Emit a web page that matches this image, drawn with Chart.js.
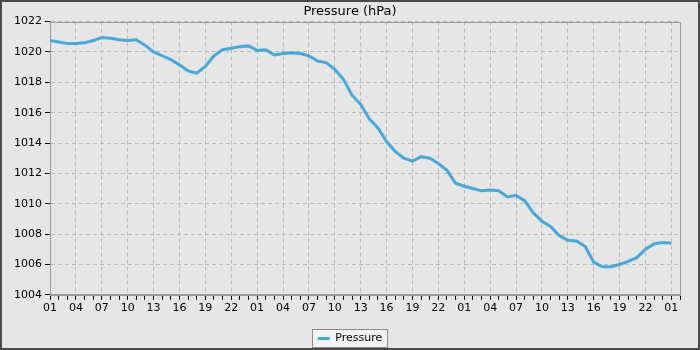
<!DOCTYPE html>
<html>
<head>
<meta charset="utf-8">
<script src="https://cdn.jsdelivr.net/npm/chart.js@4.4.1/dist/chart.umd.min.js"></script>
<style>
html, body { margin: 0; padding: 0; background: #fff; }
#wrap { width: 700px; height: 350px; box-sizing: border-box; border: 2px solid #4a4a4a; background: #e6e6e6; }
canvas { display: block; }
</style>
</head>
<body>
<div id="wrap"><canvas id="myChart" width="696" height="346"></canvas></div>
<script>
// hours since 01:00 on the first day
const hours = [0, 1, 2, 3, 4, 5, 6, 7, 8, 9, 10, 11, 12, 13, 14, 15, 16, 17, 18, 19, 20, 21, 22, 23,
  24, 25, 26, 27, 28, 29, 30, 31, 32, 33, 34, 35, 36, 37, 38, 39, 40, 41, 42, 43, 44, 45, 46, 47,
  48, 49, 50, 51, 52, 53, 54, 55, 56, 57, 58, 59, 60, 61, 62, 63, 64, 65, 66, 67, 68, 69, 70, 71, 72];
const pressure = [1020.75, 1020.65, 1020.55, 1020.55, 1020.6, 1020.75, 1020.95, 1020.9, 1020.8, 1020.75, 1020.8, 1020.45,
  1020.0, 1019.75, 1019.5, 1019.15, 1018.75, 1018.6, 1019.05, 1019.75, 1020.15, 1020.25, 1020.35, 1020.4,
  1020.1, 1020.15, 1019.8, 1019.9, 1019.95, 1019.9, 1019.75, 1019.4, 1019.3, 1018.85, 1018.2, 1017.15,
  1016.55, 1015.6, 1015.0, 1014.1, 1013.45, 1013.0, 1012.8, 1013.1, 1013.0, 1012.65, 1012.2, 1011.35,
  1011.15, 1011.0, 1010.85, 1010.9, 1010.85, 1010.45, 1010.55, 1010.2, 1009.4, 1008.85, 1008.5, 1007.9,
  1007.6, 1007.55, 1007.2, 1006.15, 1005.85, 1005.85, 1006.0, 1006.2, 1006.45, 1007.0, 1007.35, 1007.45, 1007.4];
const hourLabels = ["01", "02", "03", "04", "05", "06", "07", "08", "09", "10", "11", "12",
  "13", "14", "15", "16", "17", "18", "19", "20", "21", "22", "23", "00"];
const yMin = 1004, yMax = 1022;

const ctx = document.getElementById("myChart");
const font = { family: "'DejaVu Sans', sans-serif", size: 11 };

// grey frame round the plot and a box behind the legend
const framePlugin = {
    id: 'frame',
    beforeDraw(chart) {
        const c = chart.ctx;
        const box = chart.legend && chart.legend.legendHitBoxes && chart.legend.legendHitBoxes[0];
        if (box) {
            c.save();
            c.fillStyle = '#f4f4f4';
            c.strokeStyle = '#8a8a8a';
            c.lineWidth = 1;
            c.fillRect(box.left - 5, box.top - 3, box.width + 10, box.height + 6);
            c.strokeRect(Math.round(box.left) - 5.5, Math.round(box.top) - 3.5, Math.round(box.width) + 11, Math.round(box.height) + 7);
            c.restore();
        }
    },
    beforeDatasetsDraw(chart) {
        const a = chart.chartArea;
        const c = chart.ctx;
        c.save();
        c.strokeStyle = '#9a9a9a';
        c.lineWidth = 1;
        c.strokeRect(Math.round(a.left) + 0.5, Math.round(a.top) + 0.5, Math.round(a.right - a.left), Math.round(a.bottom - a.top));
        c.restore();
    }
};

const myChart = new Chart(ctx, {
    type: 'line',
    data: {
        datasets: [{
            label: 'Pressure',
            data: hours.map((h, i) => ({ x: h, y: pressure[i] })),
            borderColor: 'rgb(74, 168, 216)',
            backgroundColor: 'rgb(74, 168, 216)',
            borderWidth: 3,
            pointRadius: 0,
            tension: 0
        }]
    },
    options: {
        responsive: false,
        animation: false,
        layout: { padding: { left: 0, right: 0, top: 0, bottom: -6 } },
        scales: {
            x: {
                type: 'linear',
                min: 0,
                max: 73,
                ticks: {
                    stepSize: 1,
                    autoSkip: false,
                    maxRotation: 0,
                    padding: 2,
                    color: '#000',
                    font: font,
                    callback: (v) => v % 3 === 0 ? hourLabels[v % 24] : ''
                },
                grid: {
                    color: (c) => c.tick && c.tick.value % 3 === 0 ? '#bcbcbc' : 'rgba(0,0,0,0)',
                    tickColor: '#000',
                    tickLength: 5
                },
                border: { color: '#9a9a9a', dash: [4, 3] }
            },
            y: {
                min: yMin,
                max: yMax,
                afterFit: (scale) => { scale.width = 48; },
                ticks: {
                    stepSize: 1,
                    padding: 3,
                    color: '#000',
                    font: font,
                    callback: (v) => v % 2 === 0 ? v : ''
                },
                grid: {
                    color: (c) => c.tick && c.tick.value % 2 === 0 ? '#bcbcbc' : 'rgba(0,0,0,0)',
                    tickColor: '#000',
                    tickLength: 5
                },
                border: { color: '#9a9a9a', dash: [4, 3] }
            },
            // empty right margin, keeps title and legend centred on the whole canvas
            yRight: {
                position: 'right',
                min: yMin,
                max: yMax,
                afterFit: (scale) => { scale.width = 18; },
                ticks: { display: false },
                grid: { display: false },
                border: { display: false }
            }
        },
        plugins: {
            title: {
                display: true,
                text: 'Pressure (hPa)',
                color: '#000',
                font: { family: "'DejaVu Sans', sans-serif", size: 13, weight: 'normal' },
                padding: { top: 2, bottom: 2 }
            },
            legend: {
                display: true,
                position: 'bottom',
                labels: {
                    color: '#000',
                    font: font,
                    boxWidth: 12,
                    boxHeight: 3,
                    padding: 16,
                    generateLabels(chart) {
                        const items = Chart.defaults.plugins.legend.labels.generateLabels(chart);
                        items.forEach(it => { it.lineWidth = 0; it.strokeStyle = 'rgba(0,0,0,0)'; });
                        return items;
                    }
                }
            },
            tooltip: { enabled: false }
        }
    },
    plugins: [framePlugin]
});
</script>
</body>
</html>
